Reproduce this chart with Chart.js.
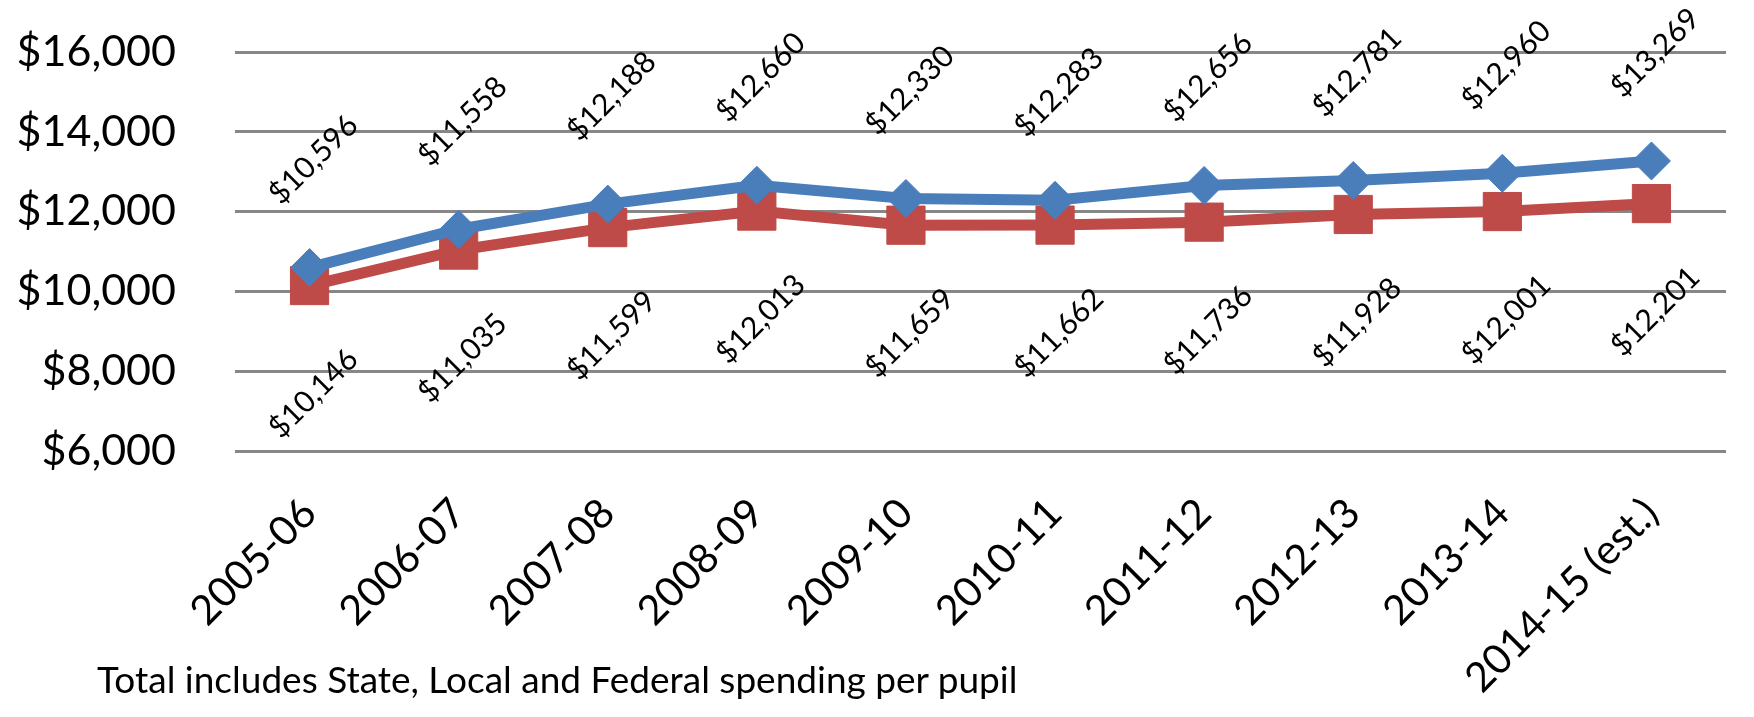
<!DOCTYPE html>
<html>
<head>
<meta charset="utf-8">
<script src="https://cdn.jsdelivr.net/npm/chart.js@4.4.1/dist/chart.umd.min.js"></script>
<style>
  html, body { margin: 0; padding: 0; background: #fff; }
  #wrap { position: relative; width: 1754px; height: 717px; overflow: hidden; }
  #note { position: absolute; left: 97px; top: 656px; font: 37px Lato, sans-serif; line-height: normal; color: #000; white-space: nowrap; }
</style>
</head>
<body>
<div id="wrap">
  <canvas id="chart" width="1754" height="717"></canvas>
  <div id="note">Total includes State, Local and Federal spending per pupil</div>
</div>
<script>
// per-pupil spending by school year
const years = ['2005-06', '2006-07', '2007-08', '2008-09', '2009-10', '2010-11',
  '2011-12', '2012-13', '2013-14', '2014-15 (est.)'];
const totalSpending = [10596, 11558, 12188, 12660, 12330, 12283, 12656, 12781, 12960, 13269];
const otherSpending = [10146, 11035, 11599, 12013, 11659, 11662, 11736, 11928, 12001, 12201];
const yMin = 6000, yMax = 16000, yStep = 2000;

const money = v => '$' + v.toLocaleString('en-US');

// rotated value labels, above for the first series, below for the second
const valueLabels = {
  id: 'valueLabels',
  afterDatasetsDraw(chart) {
    const ctx = chart.ctx;
    chart.data.datasets.forEach((ds, i) => {
      const dir = i === 0 ? -1 : 1;
      chart.getDatasetMeta(i).data.forEach((pt, j) => {
        ctx.save();
        ctx.translate(pt.x + 4, pt.y + dir * 108);
        ctx.rotate(-Math.PI / 4);
        ctx.font = '30px Lato';
        ctx.fillStyle = '#000';
        ctx.textAlign = 'center';
        ctx.textBaseline = 'middle';
        ctx.fillText(money(ds.data[j]), 0, 0);
        ctx.restore();
      });
    });
  }
};

new Chart(document.getElementById('chart'), {
  type: 'line',
  data: {
    labels: years,
    datasets: [
      {
        label: 'Total',
        data: totalSpending,
        borderColor: '#4A7EBB',
        backgroundColor: '#4A7EBB',
        borderWidth: 11,
        pointStyle: 'rectRot',
        pointRadius: 19,
        pointBorderWidth: 1,
        tension: 0,
      },
      {
        label: 'State and Local',
        data: otherSpending,
        borderColor: '#BE4B48',
        backgroundColor: '#BE4B48',
        borderWidth: 11,
        pointStyle: 'rect',
        pointRadius: 27,
        pointBorderWidth: 1,
        tension: 0,
      },
    ],
  },
  options: {
    responsive: false,
    animation: false,
    layout: { padding: { top: 52, right: 2, left: 0, bottom: 0 } },
    plugins: { legend: { display: false }, tooltip: { enabled: false } },
    scales: {
      x: {
        offset: true,
        grid: { display: false },
        border: { display: false },
        ticks: {
          color: '#000',
          font: { family: 'Lato', size: 41 },
          minRotation: 45, maxRotation: 45,
          padding: 30,
          autoSkip: false,
        },
        afterFit: s => { s.height = 266; s.paddingLeft = 0; s.paddingRight = 0; },
      },
      y: {
        min: yMin, max: yMax,
        grid: { color: '#878787', lineWidth: 3, drawTicks: false },
        border: { display: false },
        ticks: {
          stepSize: yStep,
          color: '#000',
          font: { family: 'Lato', size: 43 },
          padding: 59,
          callback: v => money(v),
        },
        afterFit: s => { s.width = 235; s.paddingTop = 0; s.paddingBottom = 0; },
      },
    },
  },
  plugins: [valueLabels],
});
</script>
</body>
</html>
